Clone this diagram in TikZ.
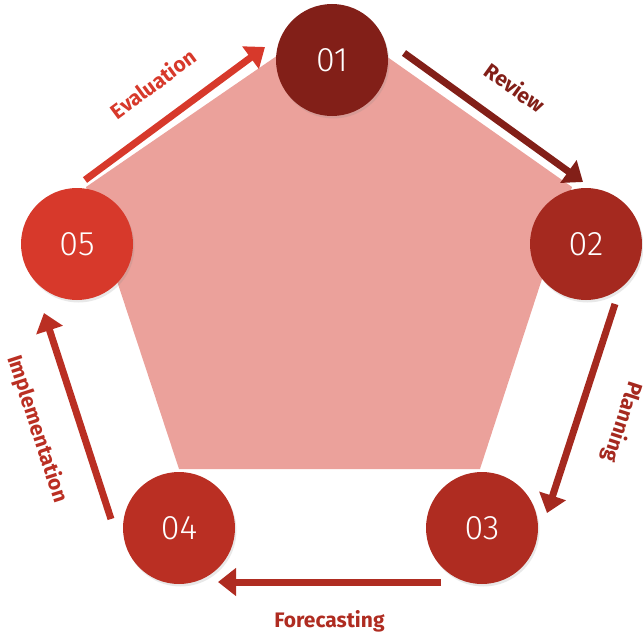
\documentclass[tikz,border=0pt]{standalone}
\usepackage{fontspec}
\setmainfont{Fira Sans}
\newfontfamily\numfont{Fira Sans}[UprightFont=* Light]
\usetikzlibrary{arrows.meta, shadows}

\definecolor{stageA}{HTML}{821F18}
\definecolor{stageB}{HTML}{A5291F}
\definecolor{stageC}{HTML}{AF2C21}
\definecolor{stageD}{HTML}{BA2F23}
\definecolor{stageE}{HTML}{D7392B}
\definecolor{pentfill}{HTML}{EBA19B}

\begin{document}
\begin{tikzpicture}[
    x=1pt, y=-1pt,
    stage/.style={circle, minimum size=112pt, inner sep=0pt, text=white,
        font=\numfont\fontsize{34}{34}\selectfont,
        drop shadow={opacity=0.18, shadow xshift=1.5pt, shadow yshift=-2.5pt}},
    flow/.style={line width=7pt, -{Triangle[length=18pt, width=27pt]}},
    tag/.style={font=\bfseries\fontsize{21}{21}\selectfont, inner sep=0pt}
]
    \useasboundingbox (0,0) rectangle (643,634);

    % Background pentagon
    \fill[pentfill] (332,18) -- (572,187) -- (480,469) -- (179,469) -- (86,187) -- cycle;

    % Stages
    \node[stage, fill=stageA] (s1) at (332,60) {01};
    \node[stage, fill=stageB] (s2) at (586,244) {02};
    \node[stage, fill=stageC] (s3) at (482,528) {03};
    \node[stage, fill=stageD] (s4) at (179,528) {04};
    \node[stage, fill=stageE] (s5) at (77,244) {05};

    % Arrow ends
    \coordinate (rev0) at (404,53);  \coordinate (rev1) at (583,182);
    \coordinate (pla0) at (615,304); \coordinate (pla1) at (547,513);
    \coordinate (for0) at (441,582); \coordinate (for1) at (218,582);
    \coordinate (imp0) at (111,519); \coordinate (imp1) at (44,313);
    \coordinate (eva0) at (85,180);  \coordinate (eva1) at (265,47);

    % Cycle arrows
    \draw[flow, stageA] (rev0) -- node[tag, above=25pt, sloped] {Review} (rev1);
    \draw[flow, stageB] (pla0) -- node[tag, above=29pt, sloped, allow upside down] {Planning} (pla1);
    \draw[flow, stageC] (for0) -- node[tag, below=25pt, sloped] {Forecasting} (for1);
    \draw[flow, stageD] (imp0) -- node[tag, below=28pt, sloped] {Implementation} (imp1);
    \draw[flow, stageE] (eva0) -- node[tag, above=25pt, sloped] {Evaluation} (eva1);
\end{tikzpicture}
\end{document}
